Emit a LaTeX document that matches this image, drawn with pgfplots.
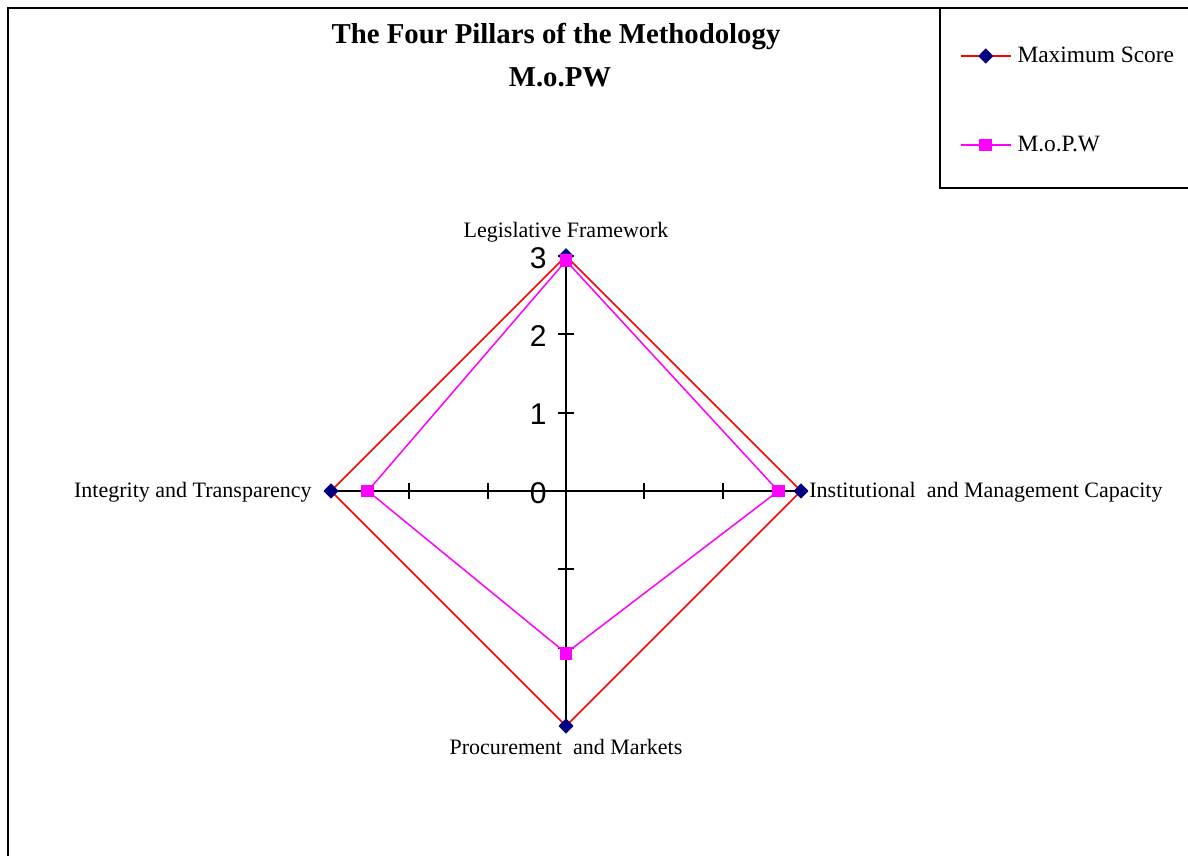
\documentclass[border=0pt]{standalone}
\usepackage{pgfplots}
\pgfplotsset{compat=1.18}
\usepackage{fontspec}
\setmainfont{Liberation Serif}
\newfontfamily\arial{Liberation Sans}
\definecolor{navy}{RGB}{0,0,128}
\definecolor{mag}{RGB}{255,0,255}
\begin{document}
\begin{tikzpicture}
\useasboundingbox (0,0) rectangle (594pt,-428pt);
\fill[white] (0,0) rectangle (594pt,-428pt);
\draw[line width=0.9pt] (4pt,-4pt) rectangle (600pt,-440pt);
\draw[line width=0.9pt] (470pt,-4pt) rectangle (600pt,-94pt);
\node[font=\fontsize{14.4}{17}\selectfont\bfseries, anchor=base, inner sep=0pt] at (278pt,-22pt) {The Four Pillars of the Methodology};
\node[font=\fontsize{14.4}{17}\selectfont\bfseries, anchor=base, inner sep=0pt] at (280pt,-43.5pt) {M.o.PW};
\begin{axis}[
  at={(283pt,-245.5pt)}, anchor=origin,
  scale only axis, width=235pt, height=235pt,
  xmin=-3, xmax=3, ymin=-3, ymax=3,
  axis lines=center,
  axis line style={-, line width=0.9pt, black},
  xtick={-2,-1,1,2}, xticklabels={},
  ytick={0,1,2,3}, yticklabels={0,1,2,3},
  extra y ticks={-2,-1}, extra y tick labels={},
  hide obscured y ticks=false,
  tick align=center, major tick length=8pt,
  tick style={black, line width=0.9pt},
  yticklabel style={font=\arial\fontsize{15}{15}\selectfont, anchor=east, inner sep=0pt, xshift=-5.5pt, yshift=-1pt},
  clip=false,
  legend style={at={(1.3383,1.3308)}, anchor=west, draw=none, fill=none, inner sep=0pt, outer sep=0pt,
    font=\fontsize{11.7}{14}\selectfont, row sep=32.5pt,
    nodes={inner sep=0pt, text height=9pt, text depth=3pt}},
  legend cell align=left,
  legend image code/.code={
    \draw[#1, mark=none] (0pt,0pt) -- (25pt,0pt);
    \draw[#1, only marks] plot coordinates {(12.5pt,0pt)};
    \path (28pt,0pt);
  },
]
\addplot[red, line width=0.75pt, mark=diamond*, mark size=3.3pt, mark options={navy, fill=navy, solid, xscale=1.3}]
  coordinates {(0,3) (3,0) (0,-3) (-3,0) (0,3)};
\addlegendentry{Maximum Score}
\addplot[mag, line width=0.75pt, mark=square*, mark size=2.8pt, mark options={mag, fill=mag, solid}]
  coordinates {(0,2.94) (2.71,0) (0,-2.07) (-2.53,0) (0,2.94)};
\addlegendentry{M.o.P.W}
\node[font=\fontsize{11}{13}\selectfont, anchor=base, inner sep=0pt] at (axis cs:0,3) [yshift=9.5pt] {Legislative Framework};
\node[font=\fontsize{11}{13}\selectfont, anchor=base west, inner sep=0pt] at (axis cs:3,0) [xshift=4pt, yshift=-3pt] {Institutional\ \ and Management Capacity};
\node[font=\fontsize{11}{13}\selectfont, anchor=base east, inner sep=0pt] at (axis cs:-3,0) [xshift=-9.5pt, yshift=-3pt] {Integrity and Transparency};
\node[font=\fontsize{11}{13}\selectfont, anchor=base, inner sep=0pt] at (axis cs:0,-3) [yshift=-14pt] {Procurement\ \ and Markets};
\end{axis}
\end{tikzpicture}
\end{document}
